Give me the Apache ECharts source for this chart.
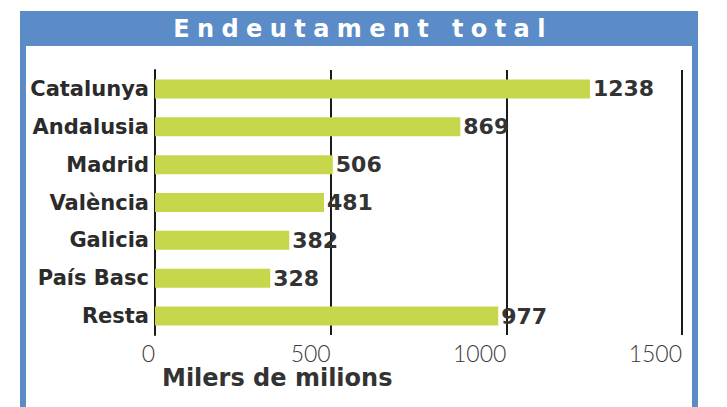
<!DOCTYPE html>
<html>
<head>
<meta charset="utf-8">
<script src="https://cdn.jsdelivr.net/npm/echarts@6/dist/echarts.min.js"></script>
<style>
html,body{margin:0;padding:0;background:#fff;}
#chart{width:727px;height:407px;}
</style>
</head>
<body>
<div id="chart"></div>
<script>
const chartTitle = 'Endeutament total';
const axisTitle = 'Milers de milions';
const categories = ['Catalunya', 'Andalusia', 'Madrid', 'València', 'Galicia', 'País Basc', 'Resta'];
const values = [1238, 869, 506, 481, 382, 328, 977];
const xTicks = [0, 500, 1000, 1500];

const chart = echarts.init(document.getElementById('chart'), null, {renderer: 'svg'});
const frameBlue = '#5b8cc7';
chart.setOption({
  animation: false,
  backgroundColor: '#ffffff',
  graphic: [
    {type: 'rect', z: 0, shape: {x: 20, y: 11, width: 678, height: 35}, style: {fill: frameBlue}},
    {type: 'rect', z: 0, shape: {x: 20, y: 46, width: 6, height: 361}, style: {fill: frameBlue}},
    {type: 'rect', z: 0, shape: {x: 692, y: 46, width: 6, height: 361}, style: {fill: frameBlue}}
  ],
  title: [
    {text: chartTitle, left: 358, top: 12, textAlign: 'center',
     textStyle: {color: '#ffffff', fontFamily: 'DejaVu Sans', fontWeight: 'bold', fontSize: 24}},
    {text: axisTitle, left: 157, top: 361,
     textStyle: {color: '#333333', fontFamily: 'DejaVu Sans', fontWeight: 'bold', fontSize: 24}}
  ],
  grid: {left: 155, right: 45, top: 70, bottom: 72, containLabel: false},
  xAxis: {
    type: 'value', min: xTicks[0], max: xTicks[xTicks.length - 1], interval: 500,
    axisLine: {show: false}, axisTick: {show: false},
    splitLine: {show: true, lineStyle: {color: '#1a1a1a', width: 2}},
    axisLabel: {align: 'right', margin: 6, color: '#3a3a3a', fontFamily: 'Lato', fontWeight: 300, fontSize: 23,
      customValues: xTicks, formatter: v => String(v)}
  },
  yAxis: {
    type: 'category', data: categories, inverse: true,
    axisLine: {show: true, lineStyle: {color: '#1a1a1a', width: 2}},
    axisTick: {show: false},
    axisLabel: {margin: 6, color: '#2b2b2b', fontFamily: 'DejaVu Sans', fontWeight: 'bold', fontSize: 21}
  },
  series: [{
    type: 'bar', data: values, barWidth: 19,
    itemStyle: {color: '#c6d74c'},
    label: {show: true, position: 'right', distance: 3, color: '#333333',
      fontFamily: 'DejaVu Sans', fontWeight: 'bold', fontSize: 22}
  }]
});
function spaceTitle(){
  document.querySelectorAll('#chart text').forEach(t => {
    if (t.textContent === chartTitle) t.setAttribute('letter-spacing', '7.4');
  });
}
chart.on('finished', spaceTitle);
spaceTitle();
</script>
</body>
</html>
